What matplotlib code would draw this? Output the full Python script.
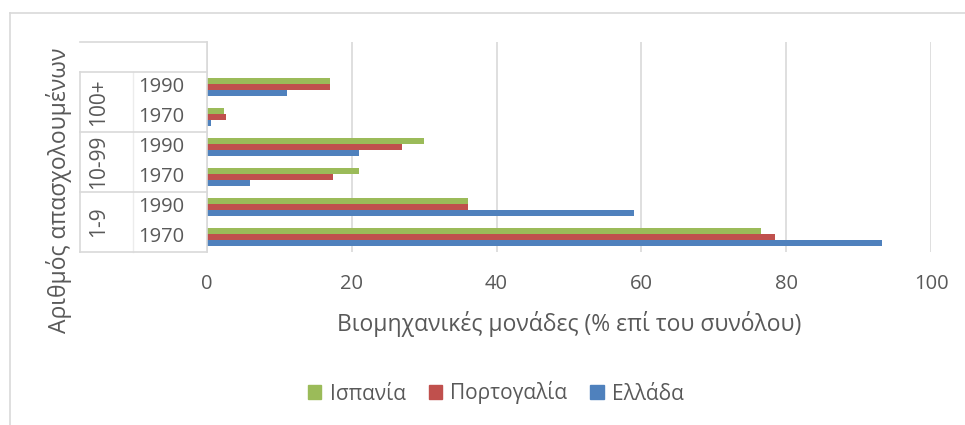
import matplotlib
matplotlib.use("Agg")
import matplotlib.pyplot as plt
import numpy as np

# categories, bottom to top
groups = ["1-9", "10-99", "100+"]
years = ["1970", "1990"]
series = ["Ελλάδα", "Πορτογαλία", "Ισπανία"]
greece = [93.2, 59, 6, 21, 0.5, 11]
portugal = [78.5, 36, 17.4, 27, 2.6, 17]
spain = [76.5, 36, 21, 30, 2.3, 17]
colors = ["#4f81bd", "#c0504d", "#9bbb59"]
xticks = [0, 20, 40, 60, 80, 100]

TXT = "#595959"
GRID = "#d9d9d9"
plt.rcParams["font.family"] = ["Open Sans", "DejaVu Sans"]

fig = plt.figure(figsize=(9.65, 4.25), dpi=100)
W, H = 965, 425
bot, top = 1 - 252 / H, 210 / H
ax = fig.add_axes([207 / W, bot, 724 / W, top])

n = len(groups) * len(years)
y = np.arange(n)
h = 0.2
for i, (vals, c) in enumerate(zip([greece, portugal, spain], colors)):
    ax.barh(y + (i - 1) * h, vals, height=h, color=c, zorder=3)

ax.set_xlim(0, 100)
ax.set_ylim(-0.5, n + 0.5)
ax.set_xticks(xticks)
ax.set_xticklabels([str(t) for t in xticks], fontsize=14.5, color=TXT)
ax.tick_params(axis="x", length=0, pad=16)
ax.set_yticks([])
ax.grid(axis="x", color=GRID, linewidth=1.2, zorder=0)
for s in ax.spines.values():
    s.set_visible(False)
ax.set_xlabel("Βιομηχανικές μονάδες (% επί του συνόλου)", fontsize=16.5, color=TXT, labelpad=12)

# multi-level category table on the left, in its own axes (x in pixels)
tax = fig.add_axes([80 / W, bot, 127 / W, top])
tax.set_xlim(0, 127)
tax.set_ylim(-0.5, n + 0.5)
tax.axis("off")
tax.plot([127, 127], [-0.5, n + 0.5], color=GRID, lw=1.2, clip_on=False)
tax.plot([0, 0], [-0.5, n - 0.5], color=GRID, lw=1.2, clip_on=False)
tax.plot([53, 53], [-0.5, n - 0.5], color="#ececec", lw=1.0, clip_on=False)
for k in range(len(groups) + 1):
    tax.plot([0, 127], [-0.5 + 2 * k] * 2, color=GRID, lw=1.2, clip_on=False)
tax.plot([0, 127], [n + 0.5] * 2, color=GRID, lw=1.2, clip_on=False)

for gi, g in enumerate(groups):
    tax.text(19, 2 * gi + 0.5, g, rotation=90, ha="center", va="center",
             fontsize=15, color=TXT)
    for yi, yr in enumerate(years):
        tax.text(81, 2 * gi + yi, yr, ha="center", va="center",
                 fontsize=14.5, color=TXT)

fig.text(59 / W, 1 - 190 / H, "Αριθμός απασχολουμένων", rotation=90, ha="center",
         va="center", fontsize=16.5, color=TXT)

# legend
handles = [plt.Rectangle((0, 0), 1, 1, color=c) for c in colors[::-1]]
fig.legend(handles, series[::-1], loc="center", bbox_to_anchor=(496 / W, 1 - 393 / H),
           ncol=3, frameon=False, fontsize=15, labelcolor=TXT, handlelength=0.65,
           handleheight=0.65, columnspacing=1.1, handletextpad=0.4)

# outer chart frame (top and left edges)
fig.add_artist(plt.Line2D([10 / W, 1], [1 - 13 / H] * 2, color=GRID, linewidth=1.2,
                          transform=fig.transFigure))
fig.add_artist(plt.Line2D([10 / W, 10 / W], [0, 1 - 13 / H], color=GRID, linewidth=1.2,
                          transform=fig.transFigure))

fig.savefig("out.png", dpi=100)
